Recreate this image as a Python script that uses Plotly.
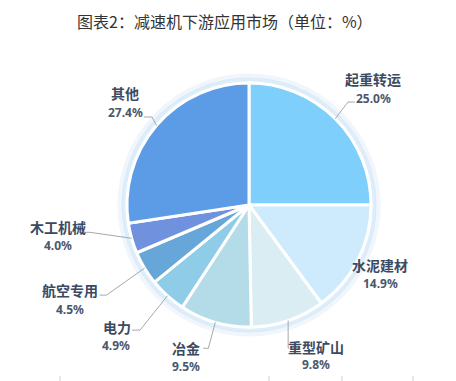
import math
import plotly.graph_objects as go

# ---- data ----
categories = ["起重转运", "水泥建材", "重型矿山", "冶金", "电力", "航空专用", "木工机械", "其他"]
shares = [25.0, 14.9, 9.8, 9.5, 4.9, 4.5, 4.0, 27.4]
colors = ["#7FCFFC", "#CDEBFC", "#DAEDF2", "#B3DCE8", "#8FCCE8", "#66A6D8", "#7091DD", "#5C9BE6"]
title_text = "图表2：减速机下游应用市场（单位：%）"

# ---- layout (pixels) ----
W, H = 456, 381
CX, CY, R = 249, 205, 122
# leader-line elbow offset from slice edge, second segment length (None = no line)
elbow_off = [(12.7, -16.7), None, (0, 27.6), (-7, 26), (-27.4, 34.4), (-38, 27), (-41.6, -6), (-4.5, -8.5)]
seg2 = [7, 0, 1, -5, -8, -7, -4, -8]
name_pos = [(373, 79), (380, 265), (316, 347), (186, 348), (117, 327), (70, 290), (58, 227), (125, 93)]
pct_pos = [(373, 98), (380, 283), (316, 364), (186, 366), (116, 345), (70, 309), (58, 245), (125, 112)]
tick_x = [60, 269, 342, 413]

def px(x):
    return x / W

def py(y):
    return 1 - y / H

fig = go.Figure()
fig.add_trace(go.Pie(
    labels=categories, values=shares, sort=False, direction="clockwise", rotation=0,
    marker=dict(colors=colors, line=dict(color="white", width=3)),
    textinfo="none", hoverinfo="label+percent", showlegend=False,
    domain=dict(x=[px(CX - R), px(CX + R)], y=[py(CY + R), py(CY - R)]),
))

shapes = []
# soft glow around pie
for dr, col, wd in [(7, "rgba(225,238,250,0.5)", 5), (3.5, "rgba(205,228,248,0.65)", 4)]:
    shapes.append(dict(type="circle", xref="paper", yref="paper", layer="below",
                       x0=px(CX - R - dr), x1=px(CX + R + dr), y0=py(CY + R + dr), y1=py(CY - R - dr),
                       line=dict(color=col, width=wd)))

annotations = []
total = sum(shares)
cum = 0.0
for i, (cat, v) in enumerate(zip(categories, shares)):
    theta = 2 * math.pi * (cum + v / 2) / total
    cum += v
    ex, ey = CX + R * math.sin(theta), CY - R * math.cos(theta)
    if elbow_off[i] is not None:
        bx, by = ex + elbow_off[i][0], ey + elbow_off[i][1]
        qx = bx + seg2[i]
        shapes.append(dict(type="path", xref="paper", yref="paper",
                           path=f"M {px(ex)},{py(ey)} L {px(bx)},{py(by)} L {px(qx)},{py(by)}",
                           line=dict(color="#A8A8A8", width=1)))
    annotations.append(dict(text=f"<b>{cat}</b>", x=px(name_pos[i][0]), y=py(name_pos[i][1]), xref="paper", yref="paper",
                            xanchor="center", yanchor="middle", showarrow=False,
                            font=dict(family="Noto Sans CJK SC", size=14, color="#3B4A61")))
    annotations.append(dict(text=f"<b>{v:.1f}%</b>", x=px(pct_pos[i][0]), y=py(pct_pos[i][1]), xref="paper", yref="paper",
                            xanchor="center", yanchor="middle", showarrow=False,
                            font=dict(family="Noto Sans, sans-serif", size=12, color="#4A576C")))

annotations.append(dict(text=title_text, x=px(225), y=py(21), xref="paper", yref="paper",
                        xanchor="center", yanchor="middle", showarrow=False,
                        font=dict(family="Noto Sans CJK SC", size=16, color="#333333")))

for tx in tick_x:
    shapes.append(dict(type="line", xref="paper", yref="paper", x0=px(tx), x1=px(tx), y0=py(376), y1=py(381),
                       line=dict(color="#D0D0D0", width=1)))

fig.update_layout(width=W, height=H, margin=dict(l=0, r=0, t=0, b=0),
                  paper_bgcolor="white", plot_bgcolor="white",
                  shapes=shapes, annotations=annotations)
fig.write_html("out.html")
